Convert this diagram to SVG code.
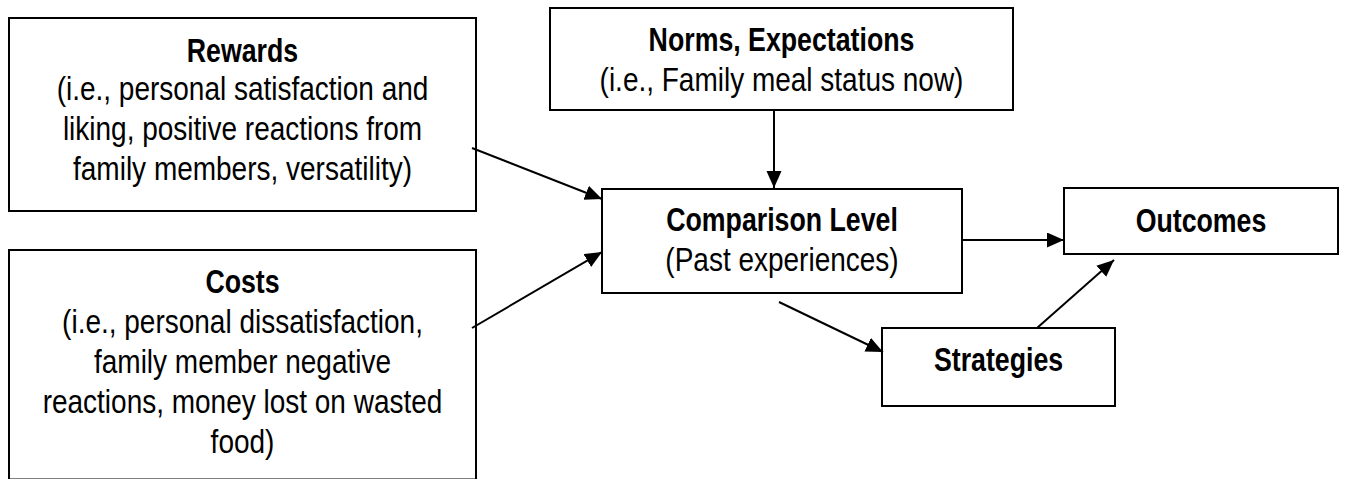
<svg xmlns="http://www.w3.org/2000/svg" width="1345" height="479" viewBox="0 0 1345 479">
<style>
.box{fill:#fff;stroke:#000;stroke-width:2}
.t{font-family:"Liberation Sans",Arial,sans-serif;fill:#000;text-anchor:middle}
.r{font-size:34px}
.b{font-size:33px;font-weight:bold}
.c{stroke:#000;stroke-width:2;fill:none;marker-end:url(#ah)}
</style>
<defs>
<marker id="ah" markerUnits="userSpaceOnUse" markerWidth="18" markerHeight="16" refX="17" refY="7.5" orient="auto">
<path d="M0,0 L17,7.5 L0,15 z" fill="#000"/>
</marker>
</defs>
<rect width="1345" height="479" fill="#fff"/>
<g id="rewards">
<rect class="box" x="9" y="18" width="467" height="193"/>
<text class="t b" transform="translate(242.5,62) scale(0.81,1)">Rewards</text>
<text class="t r" transform="translate(242.5,100) scale(0.8235,1)">(i.e., personal satisfaction and</text>
<text class="t r" transform="translate(242.5,140) scale(0.8235,1)">liking, positive reactions from</text>
<text class="t r" transform="translate(242.5,180) scale(0.8235,1)">family members, versatility)</text>
</g>
<g id="costs">
<rect class="box" x="9" y="250" width="467" height="229.5"/>
<text class="t b" transform="translate(242.5,293) scale(0.81,1)">Costs</text>
<text class="t r" transform="translate(242.5,333) scale(0.8235,1)">(i.e., personal dissatisfaction,</text>
<text class="t r" transform="translate(242.5,373) scale(0.8235,1)">family member negative</text>
<text class="t r" transform="translate(242.5,413) scale(0.8235,1)">reactions, money lost on wasted</text>
<text class="t r" transform="translate(242.5,453) scale(0.8235,1)">food)</text>
</g>
<g id="norms">
<rect class="box" x="550" y="8" width="463" height="102"/>
<text class="t b" transform="translate(781.5,51) scale(0.81,1)">Norms, Expectations</text>
<text class="t r" transform="translate(781.5,91) scale(0.8235,1)">(i.e., Family meal status now)</text>
</g>
<g id="comparison">
<rect class="box" x="602" y="189" width="360" height="104"/>
<text class="t b" transform="translate(782,231) scale(0.81,1)">Comparison Level</text>
<text class="t r" transform="translate(782,271) scale(0.8235,1)">(Past experiences)</text>
</g>
<g id="outcomes">
<rect class="box" x="1064" y="188" width="274" height="66"/>
<text class="t b" transform="translate(1201,232) scale(0.81,1)">Outcomes</text>
</g>
<g id="strategies">
<rect class="box" x="882" y="328" width="233" height="78"/>
<text class="t b" transform="translate(998.5,371) scale(0.81,1)">Strategies</text>
</g>
<g id="connectors">
<line class="c" x1="472" y1="148" x2="602" y2="199"/>
<line class="c" x1="472" y1="328" x2="602" y2="252"/>
<line class="c" x1="774" y1="110" x2="774" y2="188"/>
<line class="c" x1="962" y1="240" x2="1064" y2="240"/>
<line class="c" x1="779" y1="302" x2="883" y2="352"/>
<line class="c" x1="1037" y1="328" x2="1114" y2="260"/>
</g>
</svg>
